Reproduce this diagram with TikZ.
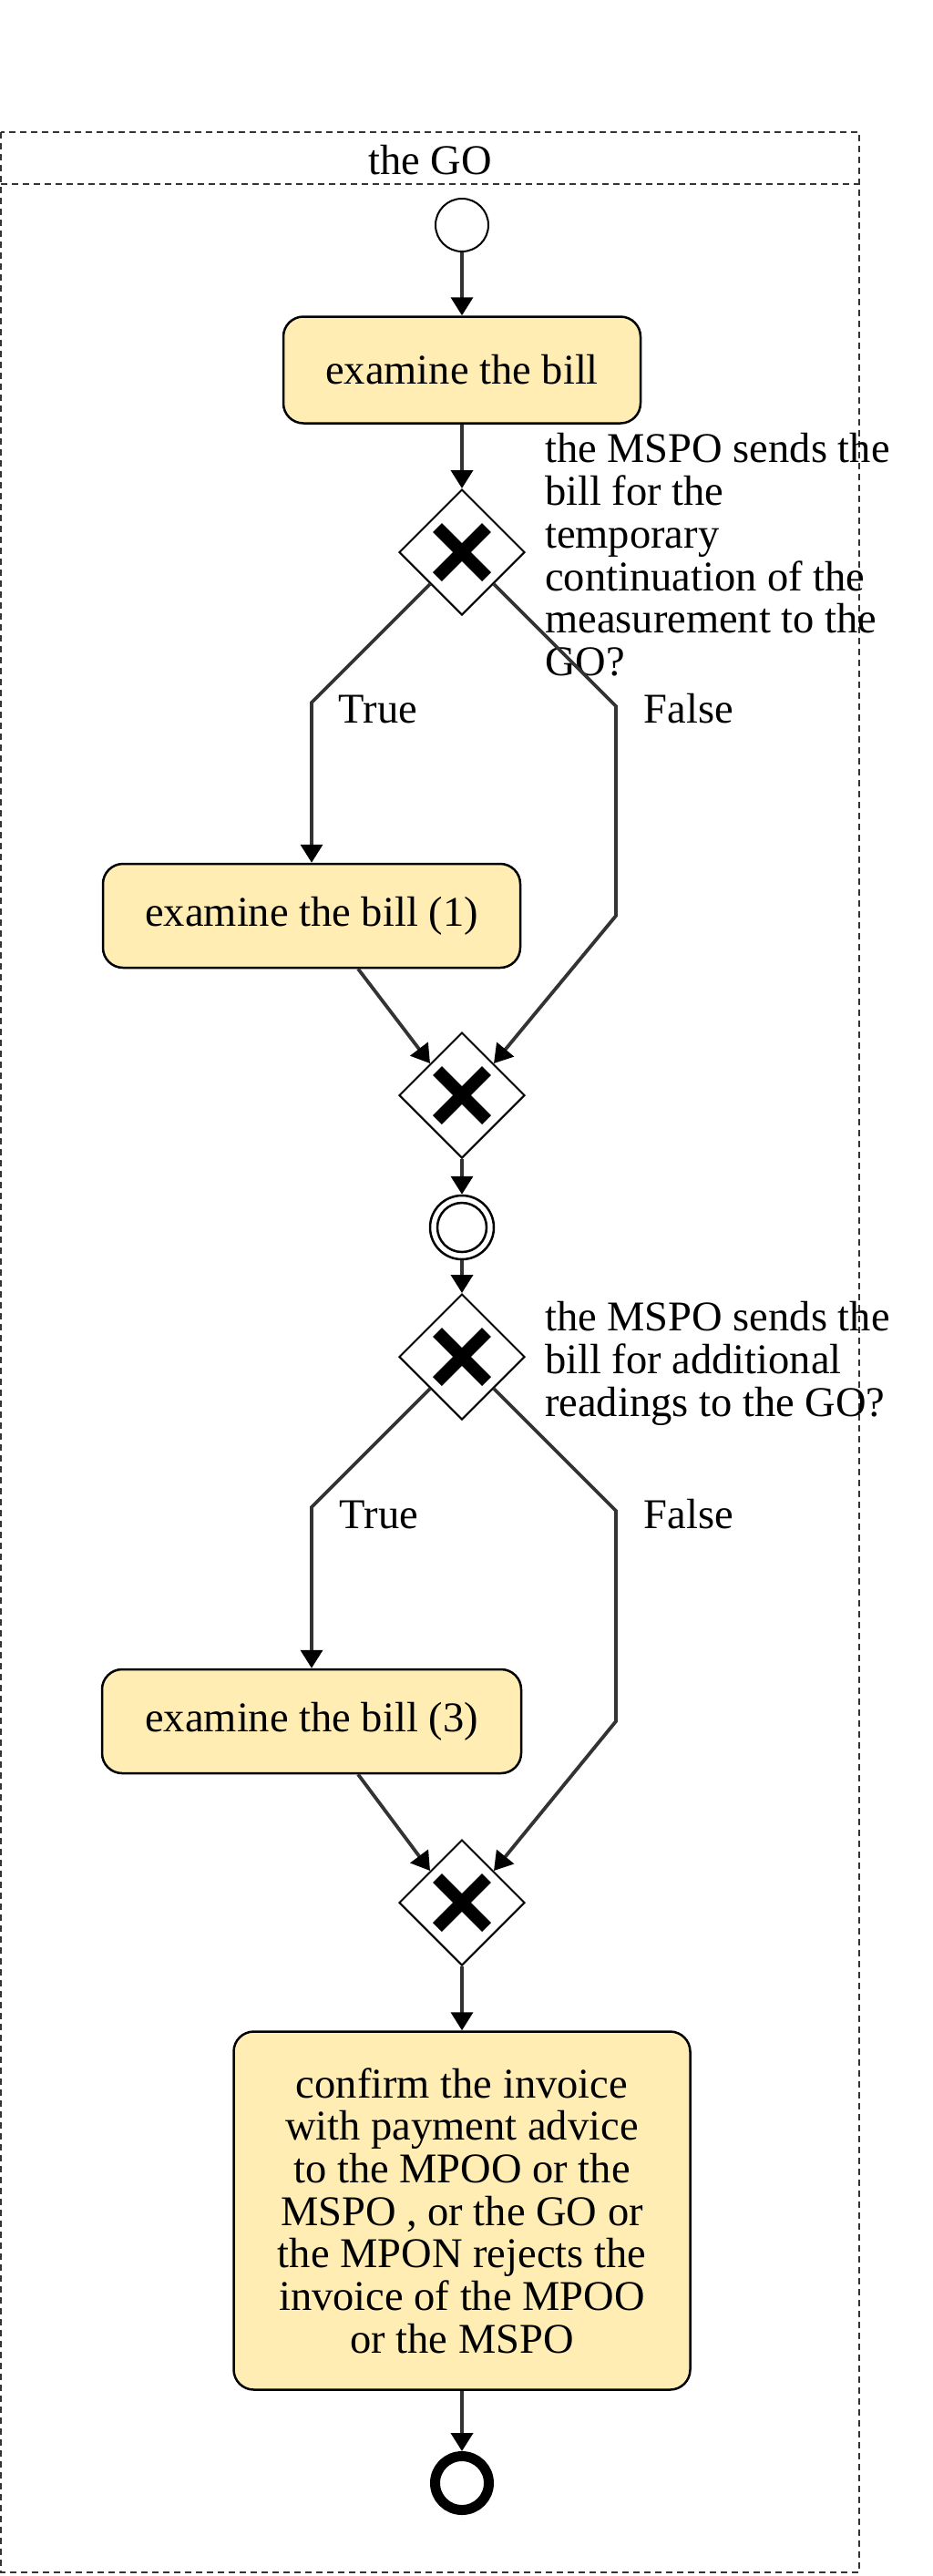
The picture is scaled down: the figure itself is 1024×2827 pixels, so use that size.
\documentclass[tikz,border=0pt]{standalone}
\usepackage{fontspec}
\setmainfont{Liberation Serif}
\usetikzlibrary{arrows.meta,shapes.geometric}
\definecolor{taskfill}{RGB}{255,237,179}
\definecolor{flowgray}{RGB}{51,51,51}
\def\gwcross(#1){\draw[line width=14pt] ([shift={(-27pt,-27pt)}]#1.center) -- ([shift={(27pt,27pt)}]#1.center);
	\draw[line width=14pt] ([shift={(-27pt,27pt)}]#1.center) -- ([shift={(27pt,-27pt)}]#1.center);}

\begin{document}
\begin{tikzpicture}[x=1pt,y=-1pt,
	txt/.style={font=\fontsize{46.5pt}{46.7pt}\selectfont, inner sep=0pt},
	pool/.style={draw=black!80, line width=1.5pt, dash pattern=on 7pt off 5pt},
	task/.style={txt, draw, line width=2.5pt, fill=taskfill, rounded corners=22pt, align=center},
	gateway/.style={diamond, draw, line width=2pt, fill=white, minimum width=138pt, minimum height=138pt, inner sep=0pt, aspect=1},
	startev/.style={circle, draw, line width=2pt, minimum size=58pt, inner sep=0pt},
	midev/.style={circle, draw, line width=2.5pt, fill=white, minimum size=70pt, inner sep=0pt},
	endev/.style={circle, draw, line width=11pt, minimum size=59pt, inner sep=0pt},
	flow/.style={draw=flowgray, line width=3.8pt, -{Triangle[length=20pt,width=24pt,color=black]}},
	cond/.style={txt, align=left, anchor=north west},
	]
			%%%%% START %%%%%
			\useasboundingbox (0,0) rectangle (1024,2827);
			
			\draw[pool] (1,145) rectangle (943,2823);
			\draw[pool] (1,202) -- (943,202);
			\node[txt] (pooltitle) at (472,176) {the GO};
			
			\node[startev] (start) at (507,247) {};
			\node[task, minimum width=392pt, minimum height=117pt] (bill) at (507,406) {examine the bill};
			
			\node[gateway] (gwa) at (507,606) {};
			\gwcross(gwa)
			\node[cond] (conda) at (598,475.5) {the MSPO sends the\\bill for the\\temporary\\continuation of the\\measurement to the\\GO?};
			\node[txt, anchor=base] (truea) at (415,793) {True};
			\node[txt, anchor=base] (falsea) at (756,793) {False};
			
			\node[task, minimum width=458pt, minimum height=114pt] (billa) at (342,1005) {examine the bill (1)};
			\node[gateway] (gwb) at (507,1202) {};
			\gwcross(gwb)
			
			\node[midev] (mid) at (507,1347) {};
			\draw[line width=2.5pt] (mid.center) circle (27pt);
			
			\node[gateway] (gwc) at (507,1489) {};
			\gwcross(gwc)
			\node[cond] (condb) at (598,1428.5) {the MSPO sends the\\bill for additional\\readings to the GO?};
			\node[txt, anchor=base] (trueb) at (416,1677) {True};
			\node[txt, anchor=base] (falseb) at (756,1677) {False};
			
			\node[task, minimum width=460pt, minimum height=114pt] (billb) at (342,1889) {examine the bill (3)};
			\node[gateway] (gwd) at (507,2088) {};
			\gwcross(gwd)
			
			\node[task, minimum width=501pt, minimum height=393pt] (confirm) at (507,2426) {confirm the invoice\\with payment advice\\to the MPOO or the\\MSPO , or the GO or\\the MPON rejects the\\invoice of the MPOO\\or the MSPO};
			\node[endev] (finish) at (507,2725) {};
			
			\coordinate (ta) at (342,771);
			\coordinate (fa) at (676,775);
			\coordinate (fa2) at (676,1005);
			\coordinate (tb) at (342,1654);
			\coordinate (fb) at (676,1658);
			\coordinate (fb2) at (676,1889);
			
			\draw[flow] (start) -- (bill);
			\draw[flow] (bill) -- (gwa);
			\draw[flow] (gwa.south west) -- (ta) -- (billa.north);
			\draw[flow] (gwa.south east) -- (fa) -- (fa2) -- (gwb.north east);
			\draw[flow] ([xshift=51pt]billa.south) -- (gwb.north west);
			\draw[flow] (gwb) -- (mid);
			\draw[flow] (mid) -- (gwc);
			\draw[flow] (gwc.south west) -- (tb) -- (billb.north);
			\draw[flow] (gwc.south east) -- (fb) -- (fb2) -- (gwd.north east);
			\draw[flow] ([xshift=51pt]billb.south) -- (gwd.north west);
			\draw[flow] (gwd) -- (confirm);
			\draw[flow] (confirm) -- (finish);
			
			%%%%% END %%%%%
\end{tikzpicture}
\end{document}
